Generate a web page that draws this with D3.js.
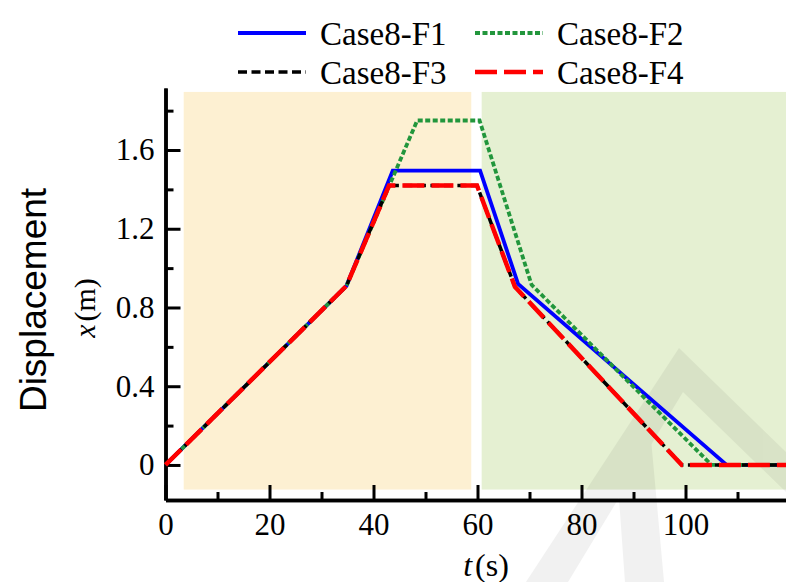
<!DOCTYPE html>
<html>
<head>
<meta charset="utf-8">
<script src="https://cdn.jsdelivr.net/npm/d3@7"></script>
<style>
  body { margin: 0; background: #fff; }
  svg { display: block; }
</style>
</head>
<body>
<svg width="786" height="582"></svg>
<script>
// series: [t (s), x (m)] corner points
const f1 = [[0, 0], [34.8, 0.91], [43.7, 1.495], [60.5, 1.495], [67.8, 0.92], [107.9, 0], [120, 0]];
const f2 = [[0, 0], [34.8, 0.91], [48.4, 1.75], [60.4, 1.75], [70.4, 0.915], [105, 0], [120, 0]];
const f3 = [[0, 0], [34.8, 0.91], [43.0, 1.42], [59.9, 1.42], [67.2, 0.905], [99.3, 0], [120, 0]];
const f4 = [[0, 0], [34.8, 0.91], [43.0, 1.42], [59.9, 1.42], [67.2, 0.905], [99.3, 0], [120, 0]];
const names = ['Case8-F1', 'Case8-F2', 'Case8-F3', 'Case8-F4'];

// shaded phases (t range, x range)
const phases = [
  {t: [3.5, 58.8], x: [-0.125, 1.895], fill: '#fdf0d2'},
  {t: [60.8, 120], x: [-0.125, 1.895], fill: '#e5f0d2'}
];

const xMajor = [0, 20, 40, 60, 80, 100];
const xMinor = [10, 30, 50, 70, 90, 110];
const yMajor = [0, 0.4, 0.8, 1.2, 1.6];
const yMinor = [0.2, 0.6, 1.0, 1.4, 1.8];

const serif = '"Liberation Serif", "Times New Roman", serif';
const svg = d3.select('svg');

const x = d3.scaleLinear().domain([0, 120]).range([165.5, 789.5]);
const y = d3.scaleLinear().domain([-0.178, 1.915]).range([500, 88]);

//backgrounds
svg.selectAll('rect.phase')
  .data(phases)
  .enter()
  .append('rect')
    .attr('class', 'phase')
    .attr('x', d => x(d.t[0]))
    .attr('width', d => x(d.t[1]) - x(d.t[0]))
    .attr('y', d => y(d.x[1]))
    .attr('height', d => y(d.x[0]) - y(d.x[1]))
    .attr('fill', d => d.fill);

//watermark
const wm = svg.append('g').attr('opacity', 0.05);
wm.append('path')
  .attr('d', 'M526,582 L679,348 L790,456 L790,496 L683,392 L568,582 Z');
wm.append('path')
  .attr('d', 'M616,456 L650,428 L664,582 L625,582 Z');

//axes
const axisStyle = g => {
  g.attr('font-family', null).attr('font-size', null);
  g.select('.domain').attr('stroke-width', 3.5);
  g.selectAll('.tick line').attr('stroke-width', 3);
  g.selectAll('text')
    .style('font-size', '31px')
    .style('font-family', serif)
    .attr('fill', '#000');
};

svg.append('g')
  .attr('transform', 'translate(0,500)')
  .call(d3.axisBottom(x).tickValues(xMinor).tickSize(-8).tickSizeOuter(0).tickFormat(''))
  .call(axisStyle);
svg.append('g')
  .attr('transform', 'translate(0,500)')
  .call(d3.axisBottom(x).tickValues(xMajor).tickSize(-15).tickSizeOuter(0).tickPadding(13).tickFormat(d3.format('d')))
  .call(axisStyle);

svg.append('g')
  .attr('transform', 'translate(165.5,0)')
  .call(d3.axisLeft(y).tickValues(yMinor).tickSize(-8).tickSizeOuter(0).tickFormat(''))
  .call(axisStyle);
svg.append('g')
  .attr('transform', 'translate(165.5,0)')
  .call(d3.axisLeft(y).tickValues(yMajor).tickSize(-15).tickSizeOuter(0).tickPadding(11).tickFormat(d => d === 0 ? '0' : d3.format('.1f')(d)))
  .call(axisStyle);

//lines
const styles = [
  {color: '#0000ff', width: 3.8, dash: null},
  {color: '#22963c', width: 3.8, dash: '5,2.5'},
  {color: '#000000', width: 3.5, dash: '9,4.5'},
  {color: '#ff0000', width: 4.5, dash: '22,7'}
];
const series = [f1, f2, f3, f4];

const line = d3.line().x(d => x(d[0])).y(d => y(d[1]));

svg.selectAll('path.series')
  .data(series)
  .enter()
  .append('path')
    .attr('class', 'series')
    .attr('d', line)
    .attr('fill', 'none')
    .attr('stroke', (d, i) => styles[i].color)
    .attr('stroke-width', (d, i) => styles[i].width)
    .attr('stroke-dasharray', (d, i) => styles[i].dash)
    .attr('stroke-linejoin', 'miter');

//legend
const leg = svg.selectAll('g.leg')
  .data(names)
  .enter()
  .append('g')
    .attr('class', 'leg')
    .attr('transform', (d, i) => `translate(${i % 2 ? 475 : 238},${i < 2 ? 33 : 72})`);
leg.append('line')
  .attr('x1', 0).attr('x2', 68)
  .attr('stroke', (d, i) => styles[i].color)
  .attr('stroke-width', (d, i) => styles[i].width)
  .attr('stroke-dasharray', (d, i) => styles[i].dash);
leg.append('text')
  .attr('x', 82).attr('dy', '0.35em')
  .style('font-size', '33px')
  .style('font-family', serif)
  .text(d => d);

//axis titles
svg.append('text')
  .attr('x', 486).attr('y', 576)
  .attr('text-anchor', 'middle')
  .style('font-size', '32px')
  .style('font-family', serif)
  .html('<tspan font-style="italic">t</tspan><tspan dx="3">(s)</tspan>');

svg.append('text')
  .attr('transform', 'translate(95,308) rotate(-90)')
  .attr('text-anchor', 'middle')
  .style('font-size', '30px')
  .style('font-family', serif)
  .html('<tspan font-style="italic">x</tspan><tspan dx="3">(m)</tspan>');

svg.append('text')
  .attr('transform', 'translate(46,300) rotate(-90)')
  .attr('text-anchor', 'middle')
  .style('font-size', '37px')
  .style('font-family', '"Liberation Sans", Arial, sans-serif')
  .text('Displacement');
</script>
</body>
</html>
